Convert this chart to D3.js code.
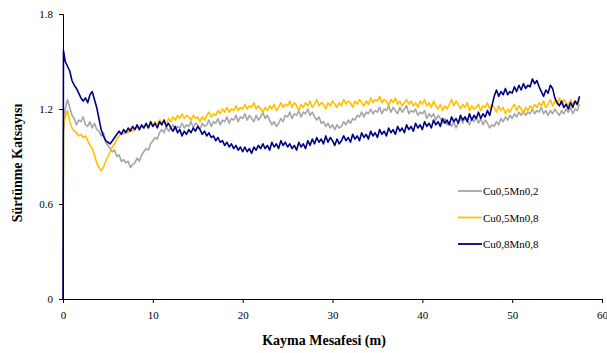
<!DOCTYPE html>
<html><head><meta charset="utf-8">
<script src="https://cdn.jsdelivr.net/npm/d3@7"></script>
<style>body{margin:0;background:#fff}svg{display:block}
.serif{font-family:"Liberation Serif","Times New Roman","DejaVu Serif",serif}
</style>
</head><body>
<script>
const seriesNames = ["Cu0,5Mn0,2", "Cu0,5Mn0,8", "Cu0,8Mn0,8"];
const seriesColors = ["#a6a6a6", "#ffc000", "#000080"];
const xTicks = [0, 10, 20, 30, 40, 50, 60];
const yTicks = [0, 0.6, 1.2, 1.8];
// sampling distances (m): 0, 0.05, then every 0.25 m up to 57.5
const distance = [0, 0.05].concat(d3.range(0.25, 57.51, 0.25));

const cu05mn02 = [0, 1.05,
 1.20,1.26,1.21,1.16, 1.14,1.10,1.13,1.12, 1.15,1.10,1.09,1.12, 1.08,1.11,1.07,1.06,
 1.03,1.05,0.99,0.97, 0.95,0.93,0.94,0.90, 0.91,0.87,0.88,0.86, 0.87,0.83,0.85,0.86,
 0.89,0.87,0.91,0.93, 0.95,0.94,0.98,1.00, 1.02,1.01,1.05,1.07, 1.05,1.09,1.06,1.08,
 1.10,1.07,1.09,1.08, 1.11,1.08,1.10,1.09, 1.12,1.08,1.11,1.10, 1.07,1.11,1.09,1.10,
 1.13,1.09,1.12,1.11, 1.14,1.10,1.13,1.12, 1.15,1.11,1.14,1.13, 1.16,1.12,1.15,1.14,
 1.17,1.13,1.16,1.14, 1.12,1.16,1.13,1.15, 1.18,1.14,1.16,1.13, 1.10,1.12,1.09,1.11,
 1.14,1.12,1.16,1.15, 1.18,1.14,1.17,1.16, 1.19,1.15,1.18,1.17, 1.20,1.16,1.18,1.15,
 1.13,1.15,1.11,1.12, 1.09,1.11,1.08,1.10, 1.07,1.10,1.08,1.09, 1.12,1.10,1.13,1.11,
 1.14,1.13,1.16,1.15, 1.18,1.15,1.18,1.17, 1.20,1.17,1.19,1.18, 1.21,1.17,1.20,1.19,
 1.22,1.18,1.21,1.19, 1.17,1.21,1.18,1.20, 1.22,1.17,1.19,1.18, 1.20,1.16,1.18,1.17,
 1.19,1.14,1.17,1.15, 1.17,1.13,1.16,1.14, 1.11,1.14,1.10,1.12, 1.09,1.12,1.08,1.11,
 1.14,1.11,1.15,1.13, 1.10,1.14,1.12,1.15, 1.11,1.14,1.10,1.13, 1.11,1.08,1.10,1.09,
 1.12,1.10,1.14,1.12, 1.15,1.13,1.16,1.14, 1.17,1.15,1.18,1.16, 1.19,1.16,1.18,1.17,
 1.20,1.17,1.19,1.18, 1.21,1.17,1.19,1.16, 1.19,1.17,1.20,1.18, 1.16,1.19,1.17,1.20,
 1.18,1.21,1.17,1.20, 1.19,1.23];

const cu05mn08 = [0, 1.10,
 1.15,1.19,1.12,1.08, 1.06,1.05,1.03,1.04, 1.02,1.03,1.00,0.97, 0.95,0.91,0.86,0.83,
 0.81,0.83,0.87,0.90, 0.93,0.96,0.98,1.01, 1.03,1.05,1.04,1.06, 1.05,1.08,1.06,1.07,
 1.09,1.07,1.09,1.08, 1.10,1.08,1.11,1.09, 1.12,1.10,1.13,1.11, 1.13,1.10,1.14,1.12,
 1.15,1.13,1.16,1.14, 1.17,1.14,1.16,1.15, 1.13,1.16,1.14,1.15, 1.12,1.15,1.13,1.16,
 1.18,1.15,1.17,1.16, 1.19,1.17,1.20,1.18, 1.21,1.18,1.20,1.19, 1.22,1.19,1.21,1.20,
 1.23,1.20,1.22,1.21, 1.24,1.20,1.22,1.20, 1.18,1.21,1.19,1.22, 1.20,1.23,1.19,1.21,
 1.24,1.21,1.23,1.22, 1.25,1.21,1.24,1.22, 1.19,1.23,1.21,1.24, 1.22,1.25,1.21,1.23,
 1.26,1.22,1.24,1.23, 1.20,1.24,1.22,1.25, 1.23,1.21,1.24,1.22, 1.26,1.23,1.25,1.24,
 1.21,1.25,1.23,1.26, 1.24,1.22,1.25,1.23, 1.27,1.24,1.26,1.25, 1.28,1.24,1.26,1.25,
 1.22,1.26,1.24,1.27, 1.23,1.25,1.22,1.24, 1.26,1.23,1.25,1.22, 1.24,1.21,1.25,1.23,
 1.26,1.22,1.24,1.21, 1.25,1.22,1.20,1.23, 1.19,1.22,1.20,1.23, 1.26,1.22,1.25,1.23,
 1.20,1.23,1.21,1.24, 1.19,1.22,1.20,1.21, 1.23,1.19,1.22,1.21, 1.24,1.20,1.23,1.21,
 1.18,1.22,1.19,1.21, 1.17,1.20,1.18,1.21, 1.23,1.19,1.22,1.20, 1.17,1.21,1.19,1.22,
 1.20,1.23,1.21,1.24, 1.22,1.25,1.21,1.23, 1.26,1.22,1.25,1.23, 1.27,1.23,1.26,1.24,
 1.22,1.26,1.23,1.25, 1.22,1.26];

const cu08mn08 = [0, 1.57,
 1.50,1.47,1.44,1.38, 1.35,1.33,1.30,1.27, 1.25,1.27,1.24,1.29, 1.31,1.26,1.21,1.14,
 1.07,1.03,1.00,0.99, 0.98,1.00,1.02,1.04, 1.06,1.04,1.07,1.05, 1.08,1.06,1.09,1.07,
 1.10,1.07,1.10,1.08, 1.11,1.08,1.12,1.09, 1.11,1.08,1.12,1.10, 1.13,1.09,1.11,1.08,
 1.06,1.09,1.05,1.07, 1.03,1.06,1.04,1.07, 1.05,1.08,1.06,1.09, 1.07,1.04,1.06,1.03,
 1.05,1.02,1.03,1.00, 1.02,0.99,1.00,0.97, 0.99,0.96,0.98,0.95, 0.97,0.94,0.96,0.93,
 0.96,0.93,0.95,0.92, 0.96,0.94,0.97,0.95, 0.98,0.95,0.97,0.94, 0.99,0.96,0.98,0.95,
 1.00,0.97,0.99,0.96, 0.98,0.95,0.97,0.94, 0.99,0.96,0.98,0.95, 1.00,0.97,1.01,0.98,
 1.02,0.99,1.01,0.98, 1.03,0.99,1.02,1.00, 0.97,1.01,0.98,1.00, 1.03,1.00,1.02,0.99,
 1.04,1.01,1.03,1.00, 1.05,1.02,1.04,1.01, 1.06,1.03,1.05,1.02, 1.07,1.04,1.06,1.03,
 1.08,1.05,1.07,1.04, 1.09,1.06,1.08,1.05, 1.10,1.07,1.09,1.06, 1.11,1.08,1.10,1.07,
 1.12,1.09,1.11,1.08, 1.13,1.10,1.12,1.09, 1.14,1.11,1.13,1.10, 1.15,1.12,1.14,1.11,
 1.16,1.13,1.15,1.12, 1.17,1.13,1.16,1.14, 1.18,1.14,1.17,1.15, 1.19,1.16,1.22,1.28,
 1.32,1.28,1.31,1.29, 1.33,1.29,1.31,1.30, 1.34,1.31,1.35,1.32, 1.36,1.33,1.35,1.34,
 1.39,1.36,1.38,1.34, 1.31,1.28,1.32,1.30, 1.35,1.33,1.27,1.24, 1.22,1.25,1.21,1.23,
 1.20,1.24,1.21,1.25, 1.23,1.28];

const seriesValues = [cu05mn02, cu05mn08, cu08mn08];

const W = 607, H = 353;
const svg = d3.select("body").append("svg").attr("width", W).attr("height", H);
const x = d3.scaleLinear().domain([0, 60]).range([63, 602]);
const y = d3.scaleLinear().domain([0, 1.8]).range([299, 14]);

const line = d3.line().x(d => x(d[0])).y(d => y(d[1]));
seriesValues.forEach((vals, i) => {
  const n = Math.min(vals.length, distance.length);
  const pts = d3.range(n).map(j => [distance[j], vals[j]]);
  svg.append("path").datum(pts)
    .attr("fill", "none").attr("stroke", seriesColors[i])
    .attr("stroke-width", 1.6).attr("stroke-linejoin", "round")
    .attr("d", line);
});

const xAxis = svg.append("g").attr("transform", "translate(0,299)")
  .call(d3.axisBottom(x).tickValues(xTicks).tickSize(4).tickPadding(8).tickFormat(d3.format("d")));
const yAxis = svg.append("g").attr("transform", "translate(63,0)")
  .call(d3.axisLeft(y).tickValues(yTicks).tickSize(4).tickPadding(6).tickFormat(d => d === 0 ? "0" : d3.format(".1f")(d)));
[xAxis, yAxis].forEach(g => {
  g.attr("font-family", null).attr("font-size", null);
  g.selectAll("text").attr("class", "serif").style("font-size", "11px").attr("fill", "#000");
  g.select(".domain").attr("stroke", "#000");
  g.selectAll(".tick line").attr("stroke", "#000");
});

svg.append("text").attr("class", "serif").attr("x", 324).attr("y", 345).attr("text-anchor", "middle")
  .style("font-weight", "bold").style("font-size", "14px")
  .text("Kayma Mesafesi (m)");
svg.append("text").attr("class", "serif").attr("transform", "translate(22,163) rotate(-90)").attr("text-anchor", "middle")
  .style("font-weight", "bold").style("font-size", "14px")
  .text("Sürtünme Katsayısı");

const legend = svg.append("g");
seriesNames.forEach((n, i) => {
  const ly = 191 + i * 26.5;
  legend.append("line").attr("x1", 458).attr("x2", 482).attr("y1", ly).attr("y2", ly)
    .attr("stroke", seriesColors[i]).attr("stroke-width", 1.8);
  legend.append("text").attr("class", "serif").attr("x", 483).attr("y", ly + 4)
    .style("font-size", "11px").text(n);
});
</script>
</body></html>
